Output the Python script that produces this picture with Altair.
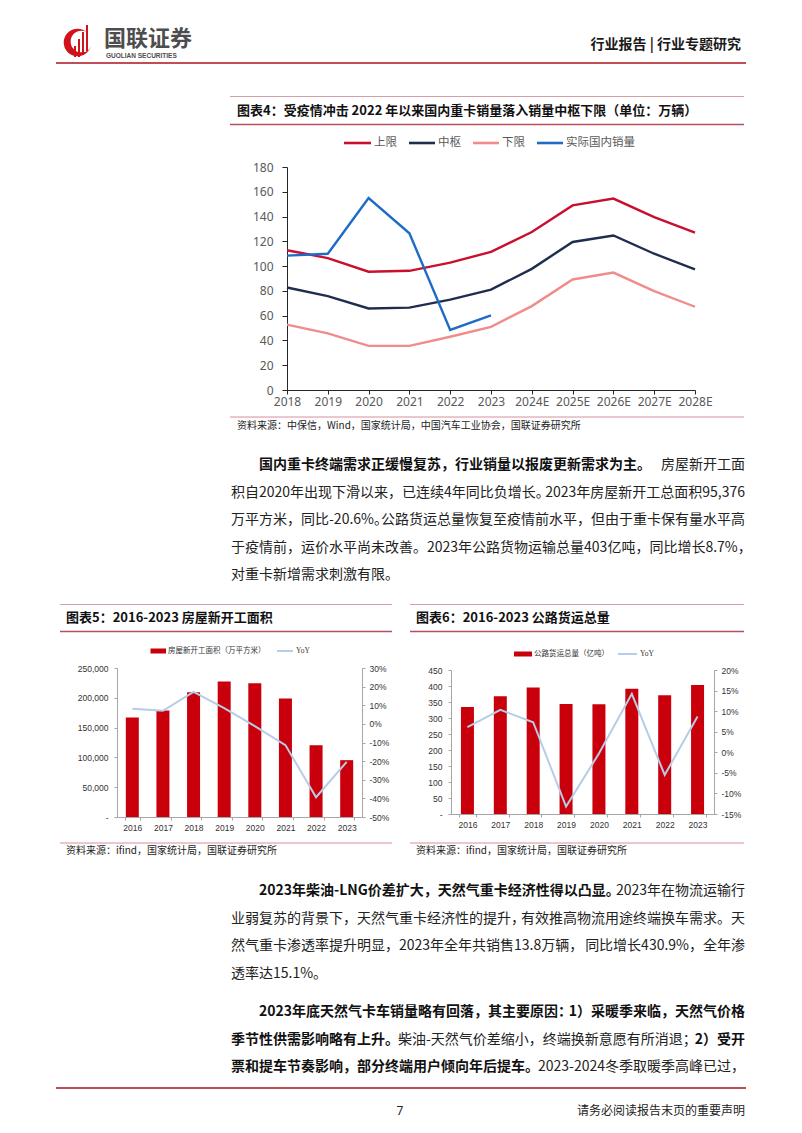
import altair as alt
import pandas as pd

# ---------------- data ----------------
years4 = ["2018", "2019", "2020", "2021", "2022", "2023", "2024E", "2025E", "2026E", "2027E", "2028E"]
series4 = ["上限", "中枢", "下限", "实际国内销量"]
upper = [112.8, 106.5, 95.5, 96.2, 102.8, 111.5, 127.5, 149.0, 154.5, 139.5, 127.0]
middle = [82.7, 75.8, 65.8, 66.5, 73.0, 81.0, 97.8, 119.5, 124.7, 110.0, 97.3]
lower = [52.8, 45.7, 35.6, 35.6, 43.0, 51.0, 67.7, 89.2, 94.8, 79.8, 67.2]
actual_years = ["2018", "2019", "2020", "2021", "2022", "2023"]
actual = [108.5, 110.0, 155.0, 126.5, 48.5, 60.2]
ticks4 = [0, 20, 40, 60, 80, 100, 120, 140, 160, 180]

years56 = ["2016", "2017", "2018", "2019", "2020", "2021", "2022", "2023"]
starts = [166928, 178654, 209342, 227154, 224433, 198895, 120587, 95376]
starts_yoy = [8.1, 7.0, 17.2, 8.5, -1.2, -11.4, -39.4, -20.4]
ticks5_left = [0, 50000, 100000, 150000, 200000, 250000]
ticks5_right = [-50, -40, -30, -20, -10, 0, 10, 20, 30]
freight = [334.1, 368.0, 395.7, 343.5, 342.6, 391.4, 371.2, 403.4]
freight_yoy = [6.1, 10.3, 7.3, -13.2, -0.3, 14.2, -5.5, 8.7]
ticks6_left = [0, 50, 100, 150, 200, 250, 300, 350, 400, 450]
ticks6_right = [-15, -10, -5, 0, 5, 10, 15, 20]

title4 = "图表4：受疫情冲击 2022 年以来国内重卡销量落入销量中枢下限（单位：万辆）"
title5 = "图表5：2016-2023 房屋新开工面积"
title6 = "图表6：2016-2023 公路货运总量"
source4 = "资料来源：中保信，Wind，国家统计局，中国汽车工业协会，国联证券研究所"
source56 = "资料来源：ifind，国家统计局，国联证券研究所"
legend5 = ["房屋新开工面积（万平方米）", "YoY"]
legend6 = ["公路货运总量（亿吨）", "YoY"]
header_right = "行业报告 | 行业专题研究"
logo_cn = "国联证券"
logo_en = "GUOLIAN SECURITIES"
footer_note = "请务必阅读报告末页的重要声明"
page_no = "7"

# ---------------- layout helpers ----------------
W, H = 786, 1117
def px(v):
    return v - 8
def py(v):
    return v - 8

CJK = "Noto Sans CJK SC"
LAT = "Noto Sans"
C4 = ["#C8102E", "#1F2D4F", "#F08C8C", "#1E6CC6"]
RED_BAR = "#C9000C"
LBLUE = "#B7CCE6"
HEADER_LINE = "#BF4F55"
TOP_LINE = "#D3A1AA"
BOTTOM_LINE = "#B4505E"
SRC_LINE = "#D88E9A"


def text_layer(items, size, weight="normal", color="#222222", align="left", font=CJK):
    df = pd.DataFrame(items, columns=["t", "x", "y"])
    df["x"] = df["x"] - 8
    df["y"] = df["y"] - 8
    return alt.Chart(df).mark_text(fontSize=size, fontWeight=weight, color=color,
                                   align=align, baseline="middle", font=font).encode(
        x=alt.X("x:Q", scale=None, axis=None),
        y=alt.Y("y:Q", scale=None, axis=None),
        text="t:N")


def rule_layer(items, width):
    df = pd.DataFrame(items, columns=["x", "x2", "y", "c"])
    df["x"] = df["x"] - 8
    df["x2"] = df["x2"] - 8
    df["y"] = df["y"] - 8
    return alt.Chart(df).mark_rule(strokeWidth=width).encode(
        x=alt.X("x:Q", scale=None, axis=None), x2="x2:Q",
        y=alt.Y("y:Q", scale=None, axis=None),
        color=alt.Color("c:N", scale=None, legend=None))


layers = []

# ---------------- header / footer ----------------
layers.append(rule_layer([(56, 746, 63, HEADER_LINE), (56, 746, 1088, HEADER_LINE)], 1.8))
layers.append(alt.Chart(pd.DataFrame({"k": [0]})).mark_circle(size=760, color="#D0121B", opacity=1).encode(
    x=alt.value(px(77.5)), y=alt.value(py(42.5))))
layers.append(alt.Chart(pd.DataFrame({"k": [0]})).mark_circle(size=470, color="#FFFFFF", opacity=1).encode(
    x=alt.value(px(81.5)), y=alt.value(py(41.5))))
stripes = pd.DataFrame({"x": [75, 79, 83, 87], "y": [46, 39, 32, 25], "y2": [57, 57, 55, 51]})
stripes["x"] -= 8; stripes["y"] -= 8; stripes["y2"] -= 8
layers.append(alt.Chart(stripes).mark_rule(strokeWidth=2, color="#D0121B").encode(
    x=alt.X("x:Q", scale=None, axis=None), y=alt.Y("y:Q", scale=None, axis=None), y2="y2:Q"))
layers.append(text_layer([(logo_cn, 104, 38.5)], 22, "bold", "#4D4D4D"))
layers.append(text_layer([(logo_en, 106, 56)], 6.5, "bold", "#4D4D4D", font="Liberation Sans"))
layers.append(text_layer([(header_right, 741, 45)], 14, "bold", "#1A1A1A", align="right"))
layers.append(text_layer([(page_no, 400, 1111)], 12, "normal", "#222222", align="center", font=LAT))
layers.append(text_layer([(footer_note, 745, 1111)], 12, "normal", "#222222", align="right"))

# ---------------- chart frames ----------------
layers.append(rule_layer([(230, 744, 96.5, TOP_LINE), (60, 392, 604.5, TOP_LINE), (410, 744, 604.5, TOP_LINE)], 1.2))
layers.append(rule_layer([(230, 744, 124.5, BOTTOM_LINE), (60, 392, 631.5, BOTTOM_LINE), (410, 744, 631.5, BOTTOM_LINE)], 1.6))
layers.append(rule_layer([(230, 744, 417, SRC_LINE), (60, 392, 843, SRC_LINE), (410, 744, 843, SRC_LINE)], 1))
layers.append(text_layer([(title4, 237, 111), (title5, 66, 618), (title6, 416, 618)], 13, "bold", "#111111"))
layers.append(text_layer([(source4, 237, 426), (source56, 66, 851), (source56, 416, 851)], 10, "normal", "#222222"))

# ---------------- chart 4 ----------------
rows4 = []
for name, vals, yrs in [(series4[0], upper, years4), (series4[1], middle, years4),
                        (series4[2], lower, years4), (series4[3], actual, actual_years)]:
    for y, v in zip(yrs, vals):
        rows4.append({"year": y, "series": name, "value": v})
df4 = pd.DataFrame(rows4)

line4 = alt.Chart(df4).mark_line(strokeWidth=2.4).encode(
    x=alt.X("year:N", sort=years4, title=None,
            scale=alt.Scale(type="point", domain=years4, range=[px(287), px(695)], padding=0),
            axis=alt.Axis(orient="bottom", offset=py(390) - H, labelAngle=0, labelFontSize=12,
                          labelColor="#595959", labelFont=LAT, domainColor="#262626",
                          tickColor="#262626", tickSize=4, labelPadding=2, grid=False)),
    y=alt.Y("value:Q", title=None,
            scale=alt.Scale(domain=[0, 180], range=[py(390), py(167)], nice=False),
            axis=alt.Axis(orient="left", offset=-px(287), values=ticks4, labelFontSize=12,
                          labelColor="#595959", labelFont=LAT, domainColor="#262626",
                          tickColor="#262626", tickSize=5, labelPadding=9, grid=False)),
    color=alt.Color("series:N", scale=alt.Scale(domain=series4, range=C4), legend=None),
)
layers.append(line4)

leg4_lines = [(344, 371, 143, C4[0]), (409, 435, 143, C4[1]), (473, 499, 143, C4[2]), (537, 563, 143, C4[3])]
layers.append(rule_layer(leg4_lines, 2.6))
layers.append(text_layer([(series4[0], 374, 143), (series4[1], 438, 143), (series4[2], 502, 143),
                          (series4[3], 566, 143)], 11.5, "normal", "#595959"))

# ---------------- chart 5 & 6 ----------------
def bar_line(years, bars, yoy, xr, ybot, ytop, bdom, bticks, bexpr, ldom, lticks):
    df = pd.DataFrame({"year": years, "value": bars, "yoy": yoy})
    ax_common = dict(labelFontSize=8.5, labelColor="#333333", labelFont="Liberation Sans",
                     domainColor="#A6A6A6", tickColor="#A6A6A6", grid=False)
    bar = alt.Chart(df).mark_bar(size=13, color=RED_BAR).encode(
        x=alt.X("year:N", sort=years, title=None,
                scale=alt.Scale(type="band", domain=years, range=[px(xr[0]), px(xr[1])],
                                paddingInner=0.5, paddingOuter=0.25),
                axis=alt.Axis(orient="bottom", offset=py(ybot) - H, labelAngle=0, tickSize=3,
                              tickBand="extent", labelPadding=3, **ax_common)),
        y=alt.Y("value:Q", title=None,
                scale=alt.Scale(domain=bdom, range=[py(ybot), py(ytop)], nice=False),
                axis=alt.Axis(orient="left", offset=-px(xr[0]), values=bticks, labelExpr=bexpr,
                              tickSize=3, labelPadding=6, **ax_common)),
    )
    line = alt.Chart(df).mark_line(color=LBLUE, strokeWidth=2).encode(
        x=alt.X("year:N", sort=years, title=None,
                scale=alt.Scale(type="point", domain=years, range=[px(xr[0]), px(xr[1])], padding=0.5),
                axis=None),
        y=alt.Y("yoy:Q", title=None,
                scale=alt.Scale(domain=ldom, range=[py(ybot), py(ytop)], nice=False),
                axis=alt.Axis(orient="right", offset=px(xr[1]) - W, values=lticks,
                              labelExpr="datum.value + '%'", tickSize=3, labelPadding=4, **ax_common)),
    )
    return [bar, line]

layers += bar_line(years56, starts, starts_yoy, (117, 362), 817, 668, [0, 250000], ticks5_left,
                   "datum.value == 0 ? '-' : format(datum.value, ',')", [-50, 30], ticks5_right)
layers += bar_line(years56, freight, freight_yoy, (451, 714), 814, 670, [0, 450], ticks6_left,
                   "datum.value == 0 ? '-' : datum.label", [-15, 20], ticks6_right)

layers.append(rule_layer([(150.5, 166, 651, RED_BAR), (514, 532, 654, RED_BAR)], 5))
layers.append(rule_layer([(277, 293, 651, LBLUE), (618, 637, 654, LBLUE)], 2))
layers.append(text_layer([(legend5[0], 168, 651), (legend6[0], 534, 654)], 7.5, "normal", "#333333"))
layers.append(text_layer([(legend5[1], 296, 651), (legend6[1], 640, 654)], 7.5, "normal", "#333333",
                         font="Liberation Serif"))

# ---------------- body text ----------------
BS = 14
bold_left = [
    ("国内重卡终端需求正缓慢复苏，行业销量以报废更新需求为主。", 259, 465),
    ("2023年柴油-LNG价差扩大，天然气重卡经济性得以凸显。", 259, 891),
    ("2023年底天然气卡车销量略有回落，其主要原因：", 259, 1012),
    ("季节性供需影响略有上升。", 231, 1039.5),
    ("票和提车节奏影响，部分终端用户倾向年后提车。", 231, 1067),
]
bold_right = [
    ("1）采暖季来临，天然气价格", 745, 1012),
    ("2）受开", 745, 1039.5),
]
reg_left = [
    ("积自2020年出现下滑以来，已连续4年同比负增长。", 231, 492.5),
    ("万平方米，同比-20.6%。", 231, 520),
    ("于疫情前，运价水平尚未改善。2023年公路货物运输总量403亿吨，同比增长8.7%，", 231, 547.5),
    ("对重卡新增需求刺激有限。", 231, 575),
    ("业弱复苏的背景下，天然气重卡经济性的提升，", 231, 918.5),
    ("然气重卡渗透率提升明显，2023年全年共销售13.8万辆，", 231, 946),
    ("透率达15.1%。", 231, 973.5),
    ("柴油-天然气价差缩小，终端换新意愿有所消退；", 398, 1039.5),
]
reg_right = [
    ("房屋新开工面", 745, 465),
    ("2023年房屋新开工总面积95,376", 745, 492.5),
    ("公路货运总量恢复至疫情前水平，但由于重卡保有量水平高", 745, 520),
    ("2023年在物流运输行", 745, 891),
    ("有效推高物流用途终端换车需求。天", 745, 918.5),
    ("同比增长430.9%，全年渗", 745, 946),
    ("2023-2024冬季取暖季高峰已过，", 745, 1067),
]
layers.append(text_layer(bold_left, BS, "bold", "#111111"))
layers.append(text_layer(bold_right, BS, "bold", "#111111", align="right"))
layers.append(text_layer(reg_left, BS, "normal", "#222222"))
layers.append(text_layer(reg_right, BS, "normal", "#222222", align="right"))

chart = alt.layer(*layers).resolve_scale(
    x="independent", y="independent", color="independent"
).properties(width=W, height=H, padding=0).configure_view(stroke=None)

chart.save("out.html", embed_options={"renderer": "svg", "actions": False})
